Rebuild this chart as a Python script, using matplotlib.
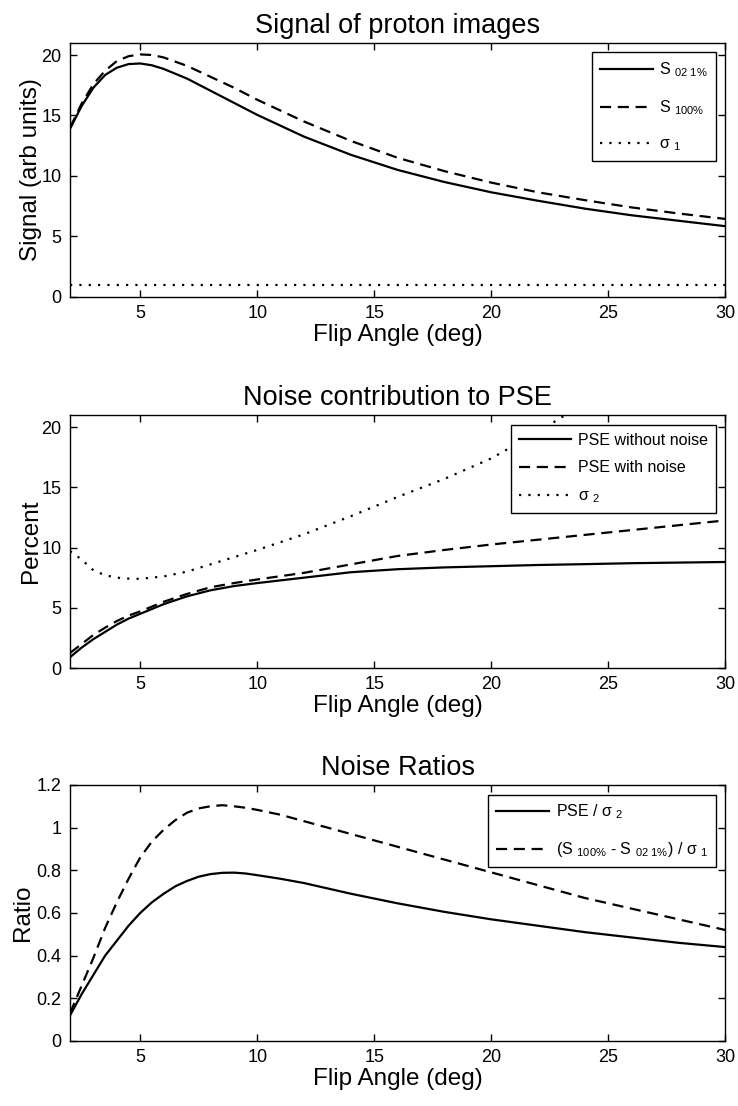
import matplotlib
matplotlib.use("Agg")
import matplotlib.pyplot as plt

plt.rcParams["font.family"] = ["Liberation Sans", "DejaVu Sans"]
plt.rcParams["mathtext.fontset"] = "custom"
plt.rcParams["mathtext.rm"] = "Liberation Sans"
plt.rcParams["mathtext.it"] = "Liberation Sans"
plt.rcParams["mathtext.default"] = "regular"

# ------------------------------------------------------------------------------
# data

flip_sig = [2, 2.5, 3, 3.5, 4, 4.5, 5, 5.5, 6, 7, 8, 9, 10, 12, 14, 16, 18, 20, 22, 24, 26, 28, 30]
s_021 = [13.9, 15.8, 17.3, 18.35, 18.95, 19.25, 19.3, 19.15, 18.85, 18.05, 17.05, 16.05, 15.05,
         13.25, 11.75, 10.5, 9.5, 8.65, 7.95, 7.3, 6.75, 6.3, 5.85]
s_100 = [14.0, 16.0, 17.6, 18.7, 19.5, 19.9, 20.05, 20.0, 19.8, 19.1, 18.2, 17.3, 16.3,
         14.5, 12.9, 11.5, 10.4, 9.45, 8.65, 8.0, 7.4, 6.9, 6.45]
sigma_1 = [1.0] * len(flip_sig)

flip_pse = [2, 2.5, 3, 3.5, 4, 4.5, 5, 6, 7, 8, 9, 10, 12, 14, 16, 18, 20, 22, 24, 26, 28, 30]
pse_clean = [0.9, 1.7, 2.4, 3.0, 3.6, 4.1, 4.5, 5.3, 5.95, 6.45, 6.8, 7.05, 7.5, 7.95, 8.2,
             8.35, 8.45, 8.55, 8.62, 8.7, 8.75, 8.8]
pse_noisy = [1.25, 2.0, 2.75, 3.35, 3.9, 4.35, 4.7, 5.5, 6.15, 6.7, 7.05, 7.35, 7.9, 8.6, 9.3,
             9.8, 10.25, 10.65, 11.05, 11.45, 11.85, 12.25]
sigma_2 = [9.7, 9.0, 8.1, 7.7, 7.5, 7.42, 7.4, 7.6, 8.0, 8.6, 9.2, 9.8, 11.1, 12.6, 14.2,
           15.7, 17.4, 19.6, 22.0, 24.6, 27.4, 30.4]

flip_ratio = [2, 2.5, 3, 3.5, 4, 4.5, 5, 5.5, 6, 6.5, 7, 7.5, 8, 8.5, 9, 9.5, 10, 11, 12, 14,
              16, 18, 20, 22, 24, 26, 28, 30]
ratio_pse = [0.12, 0.22, 0.31, 0.40, 0.47, 0.54, 0.60, 0.65, 0.69, 0.725, 0.75, 0.77, 0.782,
             0.788, 0.789, 0.785, 0.777, 0.76, 0.74, 0.69, 0.645, 0.605, 0.57, 0.54, 0.51,
             0.485, 0.46, 0.44]
ratio_sig = [0.13, 0.26, 0.39, 0.53, 0.65, 0.76, 0.86, 0.935, 0.99, 1.035, 1.07, 1.09, 1.10,
             1.105, 1.10, 1.093, 1.083, 1.06, 1.03, 0.97, 0.91, 0.85, 0.79, 0.73, 0.67, 0.62,
             0.57, 0.52]

# ------------------------------------------------------------------------------

SOLID = "-"
DASHED = (0, (5, 3))
DOTTED = (0, (1, 3.2))
LW = 1.6


def style_axes(ax, ylabel, yticks, ylim, title, ypad=0):
    ax.set_xlim(2, 30)
    ax.set_ylim(*ylim)
    ax.set_xticks([5, 10, 15, 20, 25, 30])
    ax.set_yticks(yticks)
    ax.tick_params(direction="in", top=True, right=True, length=5, width=1,
                   labelsize=13, pad=6)
    for s in ax.spines.values():
        s.set_linewidth(1.0)
    ax.set_xlabel("Flip Angle (deg)", fontsize=17.5, labelpad=1)
    ax.set_ylabel(ylabel, fontsize=17.5, labelpad=ypad)
    ax.set_title(title, fontsize=19.5, pad=7)


def legend(ax, spacing):
    leg = ax.legend(loc="upper right", fontsize=11.5, handlelength=3.3,
                    labelspacing=spacing, borderaxespad=0.6, fancybox=False,
                    framealpha=1, edgecolor="black", handletextpad=0.4,
                    borderpad=0.5)
    leg.get_frame().set_linewidth(1.0)
    return leg


fig = plt.figure(figsize=(7.38, 11.06), dpi=100)

ax1 = fig.add_axes([0.0949, 0.7315, 0.888, 0.2297])
ax1.plot(flip_sig, s_021, color="black", lw=LW, ls=SOLID, label=r"S $_{02\ 1\%}$")
ax1.plot(flip_sig, s_100, color="black", lw=LW, ls=DASHED, label=r"S $_{100\%}$")
ax1.plot(flip_sig, sigma_1, color="black", lw=LW, ls=DOTTED, label=r"$\sigma$ $_1$")
style_axes(ax1, "Signal (arb units)", [0, 5, 10, 15, 20], (0, 21), "Signal of proton images")
legend(ax1, 1.2)

ax2 = fig.add_axes([0.0949, 0.3960, 0.888, 0.2288])
ax2.plot(flip_pse, pse_clean, color="black", lw=LW, ls=SOLID, label="PSE without noise")
ax2.plot(flip_pse, pse_noisy, color="black", lw=LW, ls=DASHED, label="PSE with noise")
ax2.plot(flip_pse, sigma_2, color="black", lw=LW, ls=DOTTED, label=r"$\sigma$ $_2$")
style_axes(ax2, "Percent", [0, 5, 10, 15, 20], (0, 21), "Noise contribution to PSE")
legend(ax2, 0.8)

ax3 = fig.add_axes([0.0949, 0.0588, 0.888, 0.2315])
ax3.plot(flip_ratio, ratio_pse, color="black", lw=LW, ls=SOLID, label=r"PSE / $\sigma$ $_2$")
ax3.plot(flip_ratio, ratio_sig, color="black", lw=LW, ls=DASHED,
         label=r"(S $_{100\%}$ - S $_{02\ 1\%}$) / $\sigma$ $_1$")
style_axes(ax3, "Ratio", [0, 0.2, 0.4, 0.6, 0.8, 1, 1.2], (0, 1.2), "Noise Ratios", ypad=2)
ax3.set_yticklabels(["0", "0.2", "0.4", "0.6", "0.8", "1", "1.2"])
legend(ax3, 1.2)

fig.savefig("out.png", dpi=100, facecolor="white")
